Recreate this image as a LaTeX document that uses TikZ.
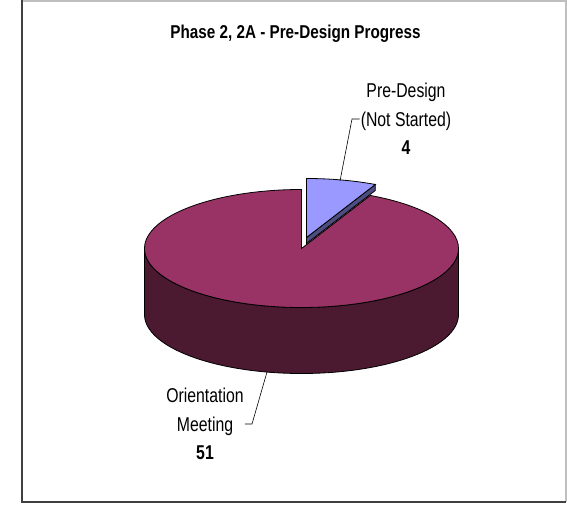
\documentclass[tikz,border=0pt]{standalone}
\usepackage{fontspec}
\setmainfont{Liberation Sans}
\newfontfamily\labelfont{Liberation Sans}[FakeStretch=0.79]
\newfontfamily\titlefont{Liberation Sans}[FakeStretch=0.82]
\usetikzlibrary{positioning}
\definecolor{pietop}{HTML}{993366}
\definecolor{pieside}{HTML}{4B1A31}
\definecolor{slicetop}{HTML}{9999FF}
\definecolor{sliceside}{HTML}{4D4D80}
\begin{document}
\begin{tikzpicture}[x=1pt, y=1pt, every node/.style={font=\labelfont\fontsize{20}{28.5}\selectfont, align=center, inner sep=1pt},
		edge/.style={draw=black, line width=0.8pt}, leader/.style={draw=black, line width=0.6pt}]
	\useasboundingbox (0,0) rectangle (567,504);
	% frame
	\draw[black!25, line width=1.5pt] (22,503.2) -- (565.8,503.2) -- (565.8,2);
	\draw[black!75, line width=2pt] (22,504) -- (22,2) -- (566,2);
	% title
	\node[font=\titlefont\bfseries\fontsize{18.6}{22}\selectfont] (title) at (295.5,470) {Phase 2, 2A - Pre-Design Progress};
	% pie body
	\coordinate (c) at (301.5,255.5);
	\filldraw[fill=pieside, edge] ([xshift=-157pt]c) -- ++(0,-66) arc[start angle=180, end angle=360, x radius=157, y radius=59]
		-- ([xshift=157pt]c) arc[start angle=0, end angle=-180, x radius=157, y radius=59] -- cycle;
	\filldraw[fill=pietop, edge] (c) -- ++(0,59) arc[start angle=90, end angle=424, x radius=157, y radius=59] -- cycle;
	% exploded slice
	\coordinate (s) at (306.5,266.5);
	\filldraw[fill=sliceside, edge] (s) -- ++(64:157 and 59) -- ++(0,-6) -- ([yshift=-6pt]s) -- cycle;
	\filldraw[fill=slicetop, edge] (s) -- ++(0,59) arc[start angle=90, end angle=64, x radius=157, y radius=59] -- cycle;
	% labels
	\node (lblpre) at (406,385) {Pre-Design\\(Not Started)\\\textbf{4}};
	\node (lblori) at (205,80) {Orientation\\Meeting\\\textbf{51}};
	\coordinate (tippre) at (340,323);
	\coordinate (tipori) at (267,132);
	\draw[leader] (tippre) -- (352,385) -- (lblpre.west);
	\draw[leader] (tipori) -- (252,80) -- (lblori.east);
\end{tikzpicture}
\end{document}
